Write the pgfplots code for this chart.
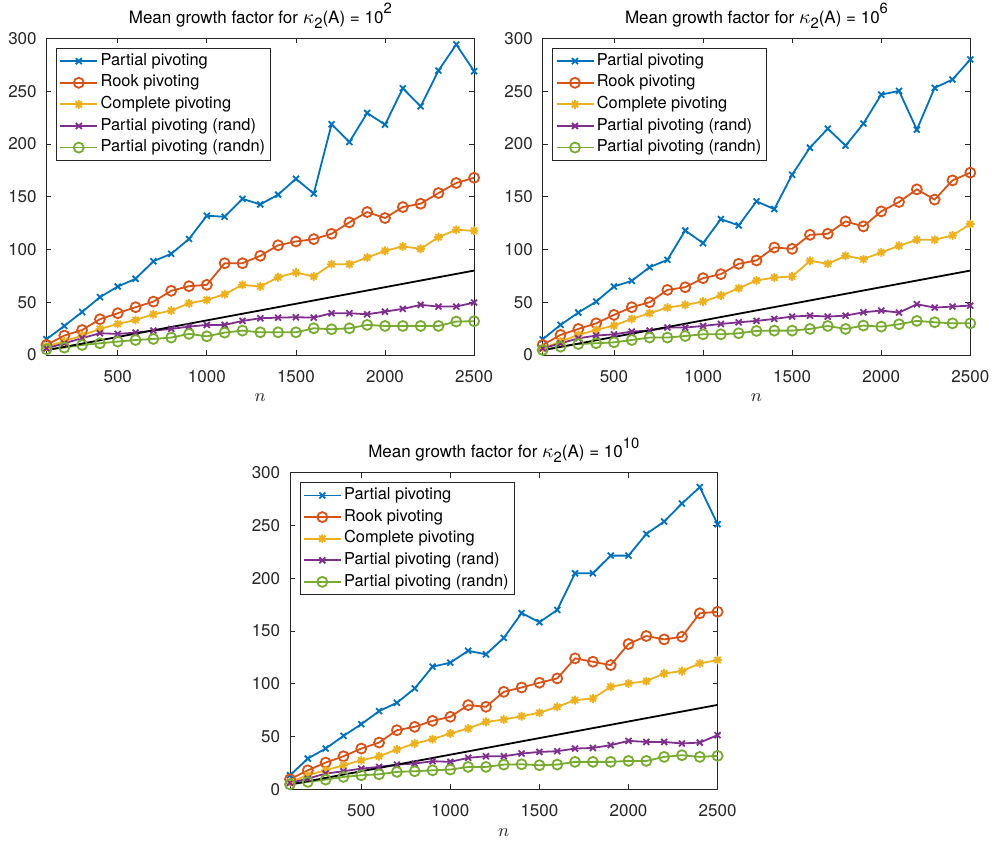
\documentclass[border=0pt]{standalone}
\usepackage{pgfplots}
\pgfplotsset{compat=1.18}
\usepackage{pgfplotstable}
\usepackage{fontspec}
\setmainfont{TeX Gyre Heros}
\definecolor{c1}{rgb}{0,0.447,0.741}
\definecolor{c2}{rgb}{0.85,0.325,0.098}
\definecolor{c3}{rgb}{0.929,0.694,0.125}
\definecolor{c4}{rgb}{0.494,0.184,0.556}
\definecolor{c5}{rgb}{0.466,0.674,0.188}
\definecolor{axgray}{rgb}{0.15,0.15,0.15}
\pgfdeclareplotmark{ast8}{%
 \pgfpathmoveto{\pgfqpoint{-\pgfplotmarksize}{0pt}}\pgfpathlineto{\pgfqpoint{\pgfplotmarksize}{0pt}}%
 \pgfpathmoveto{\pgfqpoint{0pt}{-\pgfplotmarksize}}\pgfpathlineto{\pgfqpoint{0pt}{\pgfplotmarksize}}%
 \pgfpathmoveto{\pgfqpoint{-.7071\pgfplotmarksize}{-.7071\pgfplotmarksize}}\pgfpathlineto{\pgfqpoint{.7071\pgfplotmarksize}{.7071\pgfplotmarksize}}%
 \pgfpathmoveto{\pgfqpoint{-.7071\pgfplotmarksize}{.7071\pgfplotmarksize}}\pgfpathlineto{\pgfqpoint{.7071\pgfplotmarksize}{-.7071\pgfplotmarksize}}%
 \pgfusepathqstroke}

\pgfplotstableread{
n pp rook comp rand randn
100 15 9.5 8 6.3 5.4
200 27.5 18.4 13 11 7
300 40.8 23.7 18.5 16 9.5
400 54.8 33.9 24.7 20.6 11.1
500 64.9 39.6 29.4 20 12.7
600 72.2 45.3 33.2 21.2 14.2
700 88.9 50.6 38.6 23.1 15.2
800 95.9 60.8 42.1 24.7 16.5
900 110 65.2 49 26.9 20
1000 132 66.5 52.2 28.5 17.7
1100 131 87 57.6 28.5 21.2
1200 148 87 66.5 32.3 23.1
1300 142.7 94 64.9 34.8 21.5
1400 152 104 73.7 35.4 21.5
1500 167 107.6 78.2 35.8 21.5
1600 153 109.8 74.4 35.4 25.3
1700 218.7 114.9 86.1 39.6 24.4
1800 201.9 125.7 86.1 39.6 25.3
1900 229.4 135.5 92.4 38.6 28.5
2000 218.3 129.8 98.7 41.1 27.5
2100 252.8 140.2 102.9 43.7 27.5
2200 235.7 143.4 100.6 47.5 27.5
2300 269.6 153.5 111.7 45.9 27.5
2400 294.3 163 118.7 45.9 31.7
2500 269 168 117.7 49.7 32
}\dataA

\pgfplotstableread{
n pp rook comp rand randn
100 14.9 9.5 6.3 6.3 4.7
200 28.5 19 12.7 11 7.9
300 40.2 24.7 19 15.8 10.4
400 50.6 30 23.7 18.4 11.1
500 64.9 38 27.9 19.6 12
600 70.3 45.3 34.2 22.2 14.2
700 83.2 50 39.6 23.1 16.5
800 90.2 61.7 44.9 26 16.5
900 118 64.2 47.5 26 18
1000 106 72.8 50.6 27.5 19.6
1100 128.8 76.6 56.3 29.4 19.6
1200 122.8 86.4 63.3 31 20.6
1300 145.6 89.6 70.6 32.3 22.8
1400 138.3 101.9 73.4 34.2 23.1
1500 170.9 100.6 74.4 36.4 23.1
1600 196.5 113.9 89.3 37.3 24.7
1700 214.5 114.9 86.4 36.4 27.5
1800 198.4 126.6 94 37.3 24.7
1900 219.3 121.9 90.8 40.5 27.9
2000 246.8 136.1 97.2 42.1 26.9
2100 250.3 145 103.5 40.2 29.1
2200 213.6 157 109.2 48.1 32.3
2300 253.2 147.3 109.2 44.9 31
2400 261.1 165.5 113.3 45.9 30
2500 280.1 172.8 124.1 46.8 30
}\dataB

\pgfplotstableread{
n pp rook comp rand randn
100 13.3 9.5 7 6 4.7
200 29.1 18 13.3 10.1 7
300 38.6 25.3 18 14.9 9.2
400 50.6 31.3 22.8 17.1 11.7
500 61.7 38.6 27.5 19.6 13.3
600 74.1 44.3 31.3 21.2 14.2
700 82 56 37.7 23.4 16.5
800 95.6 59.2 43.4 24.4 17.1
900 116.2 64.9 47.5 26.6 18
1000 120 68.7 52.9 26 18.7
1100 131.3 79.8 57.6 29.8 21.2
1200 127.9 78.2 63.9 31.3 21.2
1300 143.5 92.4 66.1 31.3 23.4
1400 167 96.5 69.3 33.9 23.7
1500 158.4 101 72.5 35.4 22.8
1600 170 105.1 78.2 36.1 23.4
1700 204.7 124.1 84.5 38.6 26
1800 204.7 120.9 86.1 39.2 26
1900 221.5 117.7 97.2 41.8 26
2000 221.5 137.7 100.3 45.9 26.9
2100 242 145.3 102.5 44.9 26.9
2200 253.8 142.1 109.8 44.9 30.7
2300 270.9 144.6 112 43.4 32.3
2400 286.4 166.8 119.3 44.3 30.7
2500 251.3 168.3 122.5 51.3 31.7
}\dataC

\pgfplotsset{
 mystyle/.style={
  scale only axis, width=213.8pt, height=158.25pt,
  xmin=100, xmax=2500, ymin=0, ymax=300,
  xtick={500,1000,...,2500}, ytick={0,50,...,300},
  tick align=inside, major tick length=2.5pt,
  axis line style={draw=axgray, line width=0.4pt},
  tick style={draw=axgray, line width=0.4pt},
  ticklabel style={font=\fontsize{8.5}{10}\selectfont, text=axgray},
  xticklabel style={yshift=-4pt},
  yticklabel style={xshift=-1.4pt},
  /pgf/number format/assume math mode=true,
  /pgf/number format/1000 sep={},
  xlabel={$n$},
  xlabel style={at={(axis description cs:0.5,0)}, anchor=base, yshift=-23.5pt, font=\fontsize{9}{10}\selectfont, text=axgray},
  legend image code/.code={\draw[mark repeat=2,mark phase=2,##1] plot coordinates {(0pt,0pt) (9.25pt,0pt) (18.5pt,0pt)};},
  legend style={at={(0,1)}, anchor=north west, xshift=4.75pt, yshift=-4.75pt,
    draw=axgray, line width=0.4pt, fill=white, inner xsep=1.5pt, inner ysep=1pt,
    font=\fontsize{8.2}{9}\selectfont, row sep=0pt,
    nodes={inner xsep=1.2pt, inner ysep=1.6pt, text height=5.9pt, text depth=1.7pt}},
  legend cell align=left,
 },
 s1/.style={color=c1, line width=0.9pt, mark=x, mark size=2.1pt, mark options={solid}},
 s2/.style={color=c2, line width=0.9pt, mark=o, mark size=2.5pt, mark options={solid}},
 s3/.style={color=c3, line width=0.9pt, mark=ast8, mark size=2.2pt, mark options={solid}},
 s4/.style={color=c4, line width=0.9pt, mark=x, mark size=2.1pt, mark options={solid}},
 s5/.style={color=c5, line width=0.9pt, mark=o, mark size=2.5pt, mark options={solid}},
}

\newcommand{\fiveplots}[1]{%
 \addplot[s1] table[x=n,y=pp]{#1};
 \addlegendentry{Partial pivoting}
 \addplot[s2] table[x=n,y=rook]{#1};
 \addlegendentry{Rook pivoting}
 \addplot[s3] table[x=n,y=comp]{#1};
 \addlegendentry{Complete pivoting}
 \addplot[s4] table[x=n,y=rand]{#1};
 \addlegendentry{Partial pivoting (rand)}
 \addplot[s5] table[x=n,y=randn]{#1};
 \addlegendentry{Partial pivoting (randn)}
 \addplot[black, line width=0.9pt, forget plot] coordinates {(100,4.5) (2500,80)};
}
\newcommand{\ttl}[1]{Mean growth factor for {\fontsize{10}{10}\selectfont$\kappa$}\raisebox{-0.32em}{\fontsize{7.4}{8}\selectfont 2}(A) = 10\raisebox{0.55em}{\fontsize{7.4}{8}\selectfont #1}}

\begin{document}
\begin{tikzpicture}
\useasboundingbox (0,0) rectangle (496pt,422pt);
\begin{axis}[mystyle, name=ax1, at={(23.25pt,244.5pt)}, anchor=south west]
\fiveplots{\dataA}
\end{axis}
\node[anchor=base, font=\fontsize{8.5}{10}\selectfont, inner sep=0pt] at ([yshift=7.7pt]ax1.north) {\ttl{2}};
\begin{axis}[mystyle, name=ax2, at={(271.35pt,244.5pt)}, anchor=south west]
\fiveplots{\dataB}
\end{axis}
\node[anchor=base, font=\fontsize{8.5}{10}\selectfont, inner sep=0pt] at ([yshift=7.7pt]ax2.north) {\ttl{6}};
\begin{axis}[mystyle, name=ax3, at={(145pt,27.35pt)}, anchor=south west]
\fiveplots{\dataC}
\end{axis}
\node[anchor=base, font=\fontsize{8.5}{10}\selectfont, inner sep=0pt] at ([yshift=7.7pt]ax3.north) {\ttl{10}};
\end{tikzpicture}
\end{document}
